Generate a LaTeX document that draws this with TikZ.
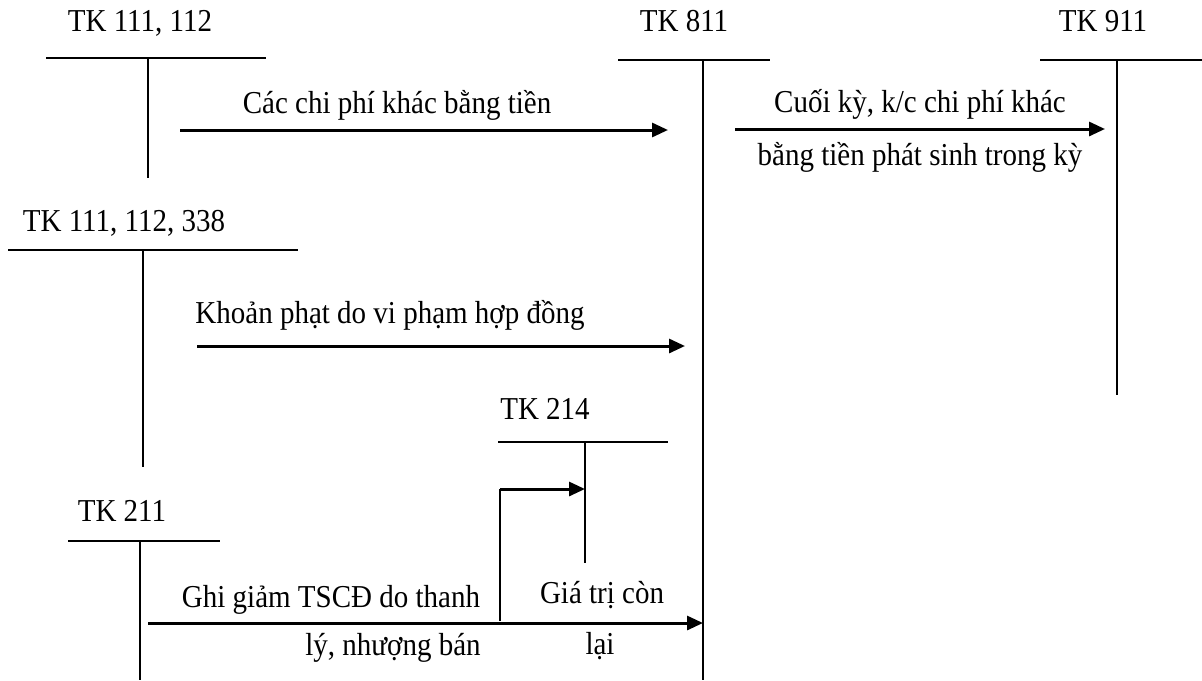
\documentclass[tikz,border=0pt]{standalone}
\usepackage{fontspec}
\usepackage{graphicx}
\setmainfont{Liberation Serif}
\usetikzlibrary{arrows.meta}
\newcommand{\tallt}[1]{\scalebox{1}[1.1]{#1}}
\begin{document}
\begin{tikzpicture}[x=0.5pt,y=-0.5pt,
  lbl/.style={font=\fontsize{14.5}{17}\selectfont, inner sep=0pt, anchor=base},
  tline/.style={line width=0.75pt},
  flow/.style={line width=1.5pt, -{Triangle[length=8pt,width=7pt]}}]
\useasboundingbox (0,0) rectangle (1202,680);
% T-account labels
\node[lbl] (tk111) at (140,31) {\tallt{TK 111, 112}};
\node[lbl] (tk811) at (684,31) {\tallt{TK 811}};
\node[lbl] (tk911) at (1103,31) {\tallt{TK 911}};
\node[lbl] (tk338) at (124,231) {\tallt{TK 111, 112, 338}};
\node[lbl] (tk214) at (545,419) {\tallt{TK 214}};
\node[lbl] (tk211) at (122,521) {\tallt{TK 211}};
% T-accounts
\draw[tline] (46,58) -- (266,58) (148,58) -- (148,178);
\draw[tline] (618,60) -- (770,60) (703,60) -- (703,680);
\draw[tline] (1040,60) -- (1202,60) (1117,60) -- (1117,395);
\draw[tline] (8,250) -- (298,250) (143,250) -- (143,467);
\draw[tline] (498,442) -- (668,442) (585,442) -- (585,563);
\draw[tline] (68,541) -- (220,541) (140,541) -- (140,680);
% arrow end points
\coordinate (a1s) at (180,130); \coordinate (a1e) at (668,130);
\coordinate (a2s) at (735,129); \coordinate (a2e) at (1105,129);
\coordinate (a3s) at (197,346); \coordinate (a3e) at (685,346);
\coordinate (a4s) at (148,623); \coordinate (a4e) at (703,623);
\coordinate (b0) at (500,621); \coordinate (b1) at (500,489); \coordinate (b2) at (585,489);
% arrows
\draw[flow] (a1s) -- (a1e);
\draw[flow] (a2s) -- (a2e);
\draw[flow] (a3s) -- (a3e);
\draw[flow] (a4s) -- (a4e);
\draw[tline] (b0) -- (b1);
\draw[flow] (b1) -- (b2);
% arrow labels
\node[lbl] (l1) at (397,113) {\tallt{Các chi phí khác bằng tiền}};
\node[lbl] (l2a) at (920,112) {\tallt{Cuối kỳ, k/c chi phí khác}};
\node[lbl] (l2b) at (920,165) {\tallt{bằng tiền phát sinh trong kỳ}};
\node[lbl] (l3) at (390,323) {\tallt{Khoản phạt do vi phạm hợp đồng}};
\node[lbl] (l4a) at (331,607) {\tallt{Ghi giảm TSCĐ do thanh}};
\node[lbl] (l4b) at (393,655) {\tallt{lý, nhượng bán}};
\node[lbl] (l5a) at (602,603) {\tallt{Giá trị còn}};
\node[lbl] (l5b) at (600,654) {\tallt{lại}};
\end{tikzpicture}
\end{document}
